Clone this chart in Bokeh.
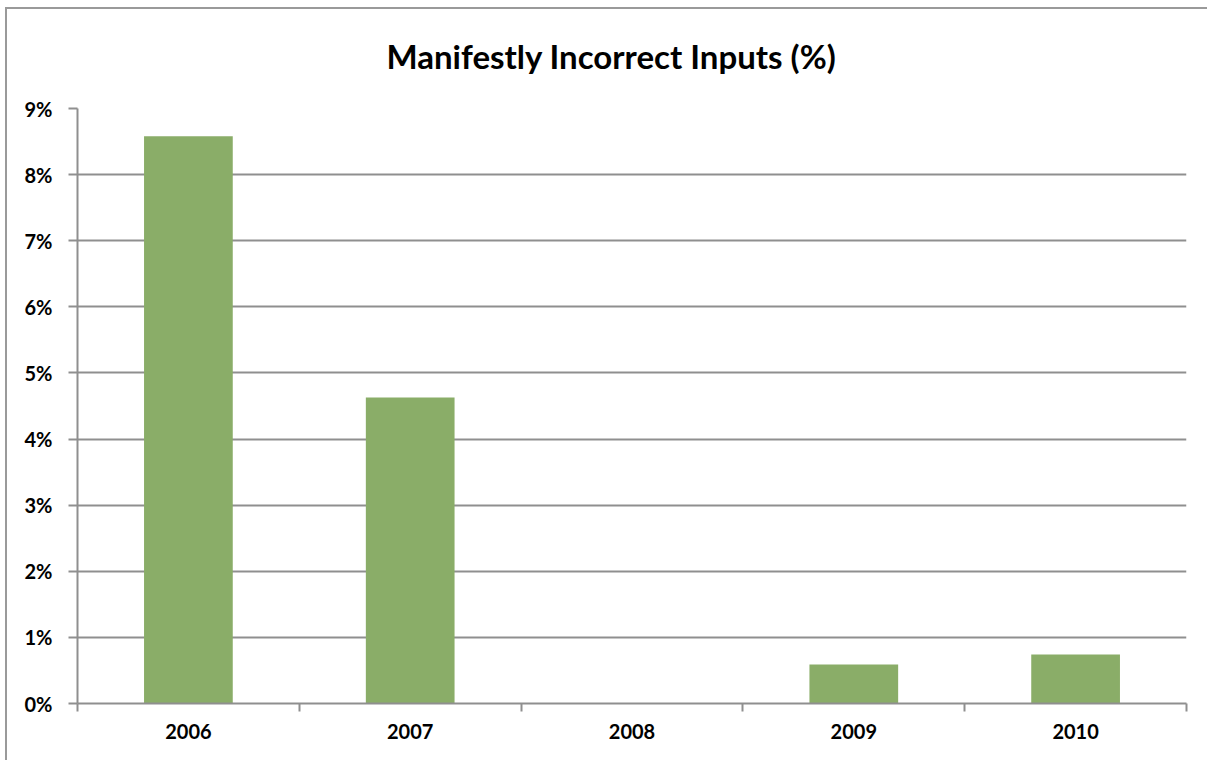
from bokeh.plotting import figure
from bokeh.models import FixedTicker, NumeralTickFormatter, Range1d, InlineStyleSheet
from bokeh.embed import file_html
from bokeh.resources import INLINE

# ---- data ----
years = ["2006", "2007", "2008", "2009", "2010"]
values = [0.0858, 0.0463, 0.0, 0.0059, 0.0074]   # fraction (shown as %)
y_ticks = [0.00, 0.01, 0.02, 0.03, 0.04, 0.05, 0.06, 0.07, 0.08, 0.09]

positions = [i + 0.5 for i in range(len(years))]
boundaries = [float(i) for i in range(len(years) + 1)]

FONT = "Lato"
GRID = "#8f8f8f"

p = figure(width=1207, height=760, output_backend="svg", toolbar_location=None,
           x_range=Range1d(0, len(years)), y_range=Range1d(0, 0.09),
           min_border_left=77, min_border_right=21, min_border_top=108,
           min_border_bottom=57)
# outer chart border: only its top and left edges fall inside the page
p.stylesheets = [InlineStyleSheet(css=(
    ":host { background-color: white; "
    "background-image: linear-gradient(#9a9a9a, #9a9a9a), linear-gradient(#9a9a9a, #9a9a9a); "
    "background-size: 2000px 2px, 2px 2000px; "
    "background-position: 5px 7px, 5px 7px; "
    "background-repeat: no-repeat, no-repeat; }"))]

p.vbar(x=positions, top=values, width=0.4, fill_color="#8aad68", line_color=None)

p.title.text = "Manifestly Incorrect Inputs (%)"
p.title.text_font = FONT
p.title.text_font_size = "33px"
p.title.text_font_style = "bold"
p.title.text_color = "black"
p.title.align = "left"
p.title.offset = 309
p.title.standoff = 66

p.outline_line_color = None
p.background_fill_color = "white"
p.border_fill_color = None

# y axis
p.yaxis.ticker = FixedTicker(ticks=y_ticks)
p.yaxis.formatter = NumeralTickFormatter(format="0%")
p.yaxis.major_label_text_font = FONT
p.yaxis.major_label_text_font_size = "20px"
p.yaxis.major_label_text_font_style = "bold"
p.yaxis.major_label_text_color = "black"
p.yaxis.major_label_standoff = 16
p.yaxis.axis_line_color = GRID
p.yaxis.axis_line_width = 2
p.yaxis.major_tick_line_color = GRID
p.yaxis.major_tick_line_width = 2
p.yaxis.major_tick_out = 9
p.yaxis.major_tick_in = 0
p.yaxis.minor_tick_line_color = None

# x axis: labels at category centres, ticks at category boundaries
p.xaxis.ticker = FixedTicker(ticks=positions, minor_ticks=boundaries)
p.xaxis.major_label_overrides = {pos: yr for pos, yr in zip(positions, years)}
p.xaxis.major_label_text_font = FONT
p.xaxis.major_label_text_font_size = "20px"
p.xaxis.major_label_text_font_style = "bold"
p.xaxis.major_label_text_color = "black"
p.xaxis.major_label_standoff = 12
p.xaxis.major_tick_line_color = None
p.xaxis.major_tick_out = 8
p.xaxis.minor_tick_line_color = GRID
p.xaxis.minor_tick_line_width = 2
p.xaxis.minor_tick_out = 8
p.xaxis.minor_tick_in = 0
p.xaxis.axis_line_color = GRID
p.xaxis.axis_line_width = 2

p.xgrid.grid_line_color = None
p.ygrid.ticker = FixedTicker(ticks=y_ticks)
p.ygrid.grid_line_color = GRID
p.ygrid.grid_line_width = 2

open("out.html", "w").write(file_html(p, INLINE))
